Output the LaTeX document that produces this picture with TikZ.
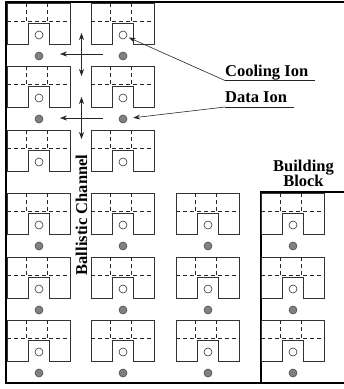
\documentclass[tikz,border=0pt]{standalone}
\usepackage{fontspec}
\setmainfont{Liberation Serif}
\usetikzlibrary{arrows.meta, positioning}

\begin{document}
\begin{tikzpicture}[
  x=1pt, y=-1pt,
  trapline/.style={line width=0.9pt, draw=black!80},
  trapdash/.style={line width=0.7pt, draw=black!85, dash pattern=on 4pt off 3pt},
  coolion/.style={circle, draw=black!80, line width=0.6pt, fill=white, minimum size=8pt, inner sep=0pt},
  dataion/.style={circle, draw=black!70, line width=0.6pt, fill=black!50, minimum size=8pt, inner sep=0pt},
  wall/.style={line width=2pt, draw=black},
  ionarrow/.style={line width=0.6pt, draw=black!85, -{Stealth[length=7pt,width=5pt,inset=2.5pt]}},
  moveline/.style={line width=0.6pt, draw=black!85, {Stealth[length=7pt,width=5pt,inset=2.5pt]}-{Stealth[length=7pt,width=5pt,inset=2.5pt]}},
  lbl/.style={font=\fontsize{16.5}{17}\selectfont\bfseries, inner sep=0pt, align=center}
]
  \useasboundingbox (0,0) rectangle (344,389);

  % outer walls
  \draw[wall] (344,2) -- (6,2) -- (6,383) -- (344,383);
  \draw[wall] (344,192) -- (260.5,192) -- (260.5,383);

  % trap blocks: column x, row y, name
  \foreach \bx/\by/\bn/\hasdata in {
    7/3/a/1, 91/3/b/1, 7/66/c/1, 91/66/d/1, 7/130/e/0, 91/130/f/0,
    7/193/g/1, 91/193/h/1, 176/193/i/1, 261/193/j/1,
    7/257/k/1, 91/257/l/1, 176/257/m/1, 261/257/n/1,
    7/320/o/1, 91/320/p/1, 176/320/q/1, 261/320/r/1} {
    \begin{scope}[shift={(\bx,\by)}]
      \draw[trapline] (0,41) -- (0,0) -- (63,0) -- (63,41) -- (42,41) -- (42,20) -- (21,20) -- (21,41) -- cycle;
      \draw[trapdash] (0,18.5) -- (64,18.5);
      \draw[trapdash] (19,0) -- (19,18.5);
      \draw[trapdash] (40.5,0) -- (40.5,18.5);
      \node[coolion] (cool\bn) at (32,32) {};
      \ifnum\hasdata=1
        \node[dataion] (data\bn) at (32,53) {};
      \fi
    \end{scope}
  }

  % shuttling arrows in the channel
  \coordinate (hone) at (103,54);
  \coordinate (honeend) at (60,54);
  \coordinate (htwo) at (103,118);
  \coordinate (htwoend) at (60,118);
  \coordinate (vonetop) at (81.5,33);
  \coordinate (vonebot) at (81.5,76);
  \coordinate (vtwotop) at (81.5,97);
  \coordinate (vtwobot) at (81.5,139);
  \draw[ionarrow] (hone) -- (honeend);
  \draw[ionarrow] (htwo) -- (htwoend);
  \draw[moveline] (vonetop) -- (vonebot);
  \draw[moveline] (vtwotop) -- (vtwobot);

  % labels
  \node[lbl, anchor=base west] (coolinglabel) at (225,76) {Cooling Ion};
  \node[lbl, anchor=base west] (datalabel) at (225,102) {Data Ion};
  \coordinate (coolstart) at (225,80.5);
  \coordinate (coolend) at (315,80.5);
  \coordinate (datastart) at (225,107);
  \coordinate (dataend) at (294,107);
  \draw[line width=0.7pt, draw=black!85] (coolend) -- (coolstart);
  \draw[line width=0.7pt, draw=black!85] (dataend) -- (datastart);
  \draw[ionarrow, shorten >=2pt] (coolstart) -- (coolb);
  \draw[ionarrow, shorten >=6pt] (datastart) -- (datad);

  \node[lbl, rotate=90] (channellabel) at (81.5,215) {Ballistic Channel};
  \node[lbl] (blocklabel) at (303.5,173.5) {Building\\[-1.5pt]Block};
\end{tikzpicture}
\end{document}
